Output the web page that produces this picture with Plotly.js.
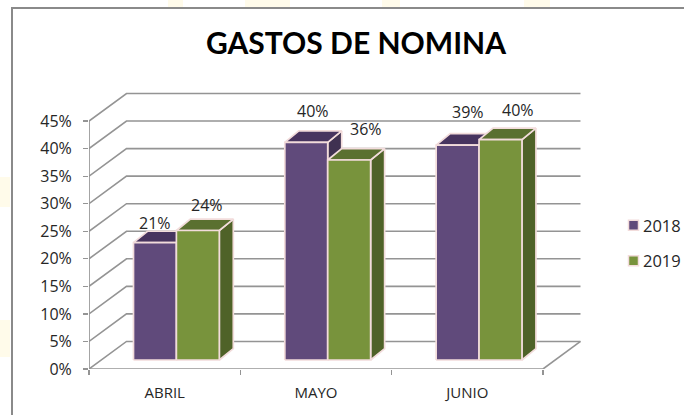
<!DOCTYPE html>
<html><head><meta charset="utf-8">
<script src="https://cdn.plot.ly/plotly-3.0.1.min.js"></script>
<style>html,body{margin:0;padding:0;background:#fff}#c{width:684px;height:415px}</style>
</head><body><div id="c"></div>
<script>
const categories = ['ABRIL','MAYO','JUNIO'];
const series2018 = [21.3, 39.5, 39];
const series2019 = [23.5, 36.3, 40];
const seriesNames = ['2018','2019'];
const tickValues = [0,5,10,15,20,25,30,35,40,45];

const labelShift2018 = [[0,20],[7,31],[10,33]];
const labelShift2019 = [[9,26],[17,31],[17,30]];

const frontColors = ['#604a7b','#78933c'];
const topColors = ['#47345f','#5a7030'];
const sideColors = ['#3f3151','#4f6228'];
const edge = '#f2dcdb', grid = '#949494', axisCol = '#949494';

const PX = 151.33, PY = 5.51;               // pixels per x unit / per 1%
const depthX = 37.5/PX, depthY = 5;         // wall depth in data units
const barStart = 0.294, barW = 0.2835;      // bar position inside a category
const baseY = 9/PY, sideX = 14/PX, sideY = 11.4/PY;

const traces = [];
const line = (x,y,c,w)=>traces.push({type:'scatter',mode:'lines',x,y,line:{color:c,width:w},hoverinfo:'skip',showlegend:false,cliponaxis:false});
const poly = (x,y,c)=>traces.push({type:'scatter',mode:'lines',x:[...x,x[0]],y:[...y,y[0]],fill:'toself',fillcolor:c,
  line:{color:edge,width:1.7},hoverinfo:'skip',showlegend:false,cliponaxis:false});

// back wall grid and floor
tickValues.forEach(v=>{
  line([0,depthX,3+depthX],[v,v+depthY,v+depthY],grid,1.6);
});
line([3,3+depthX],[0,depthY],grid,1.6);

// 3D bars
const annotations = [];
[series2018,series2019].forEach((vals,s)=>{
  const shifts = s===0?labelShift2018:labelShift2019;
  vals.forEach((v,i)=>{
    const x0 = i+barStart+s*barW, x1 = x0+barW, t = baseY+v;
    poly([x1,x1+sideX,x1+sideX,x1],[baseY,baseY+sideY,t+sideY,t],sideColors[s]);
    poly([x0,x0+sideX,x1+sideX,x1],[t,t+sideY,t+sideY,t],topColors[s]);
    poly([x0,x1,x1,x0],[baseY,baseY,t,t],frontColors[s]);
    annotations.push({x:(x0+x1)/2,y:t,xref:'x',yref:'y',text:v.toFixed(0)+'%',showarrow:false,
      xanchor:'center',yanchor:'middle',xshift:shifts[i][0],yshift:shifts[i][1],
      font:{family:'Open Sans',size:16,color:'#262626'}});
  });
});

// axis lines
line([0,3],[0,0],axisCol,1.7);
line([0,0],[0,45],axisCol,1.7);

// legend entries
seriesNames.forEach((n,s)=>traces.push({type:'scatter',mode:'markers',x:[null],y:[null],name:n,legendgroup:n,
  marker:{symbol:'square',size:10,color:frontColors[s],line:{color:edge,width:1.5}},hoverinfo:'skip'}));

const W=493,H=277;
const px=p=>(p-89)/W, py=p=>(369-p)/H;
const tint='#fffbea';
const rect=(x0,y0,x1,y1,fill,lineSpec,layer)=>({type:'rect',xref:'paper',yref:'paper',x0:px(x0),x1:px(x1),y0:py(y0),y1:py(y1),
  fillcolor:fill,line:lineSpec||{width:0},layer:layer||'below'});
const shapes=[
  rect(168,0,183,7,tint),rect(245,0,290,7,tint),rect(382,0,400,7,tint),rect(524,0,550,7,tint),
  rect(0,177,10,207,tint),rect(0,320,10,357,tint),
  rect(12,8,700,430,'#ffffff',{color:'#8a8a8a',width:2})
];

Plotly.newPlot('c',traces,{
  width:684,height:415,
  margin:{l:89,r:102,t:92,b:46,pad:0,autoexpand:false},
  paper_bgcolor:'#ffffff',plot_bgcolor:'rgba(0,0,0,0)',
  title:{text:'<b>GASTOS DE NOMINA</b>',x:356/684,xanchor:'center',y:1-43/415,yanchor:'middle',
    font:{family:'Lato',size:30,color:'#000'}},
  xaxis:{range:[0,W/PX],showgrid:false,zeroline:false,showline:false,automargin:false,
    tickmode:'array',tickvals:[0.5,1.5,2.5],ticktext:categories,ticks:'',ticklabelstandoff:13,
    tickfont:{family:'Open Sans',size:15,color:'#262626'},
    minor:{tickmode:'array',tickvals:[0,1,2,3],ticks:'outside',ticklen:5,tickwidth:1.3,tickcolor:axisCol,showgrid:false}},
  yaxis:{range:[0,H/PY],showgrid:false,zeroline:false,showline:false,automargin:false,
    tickmode:'array',tickvals:tickValues,ticktext:tickValues.map(v=>v+'%'),ticks:'outside',ticklen:5,tickwidth:1.3,tickcolor:axisCol,
    ticklabelstandoff:8,tickfont:{family:'Open Sans',size:16,color:'#262626'}},
  legend:{x:(613-89)/W,y:py(208),xanchor:'left',yanchor:'top',tracegroupgap:11,bgcolor:'rgba(0,0,0,0)',indentation:-10,
    font:{family:'Open Sans',size:16.5,color:'#262626'},itemwidth:30},
  shapes,annotations,showlegend:true
},{displayModeBar:false,staticPlot:true}).then(()=>{
  document.querySelectorAll('#c .legendpoints').forEach(g=>g.setAttribute('transform','translate(10.5,0)'));
});
</script></body></html>
